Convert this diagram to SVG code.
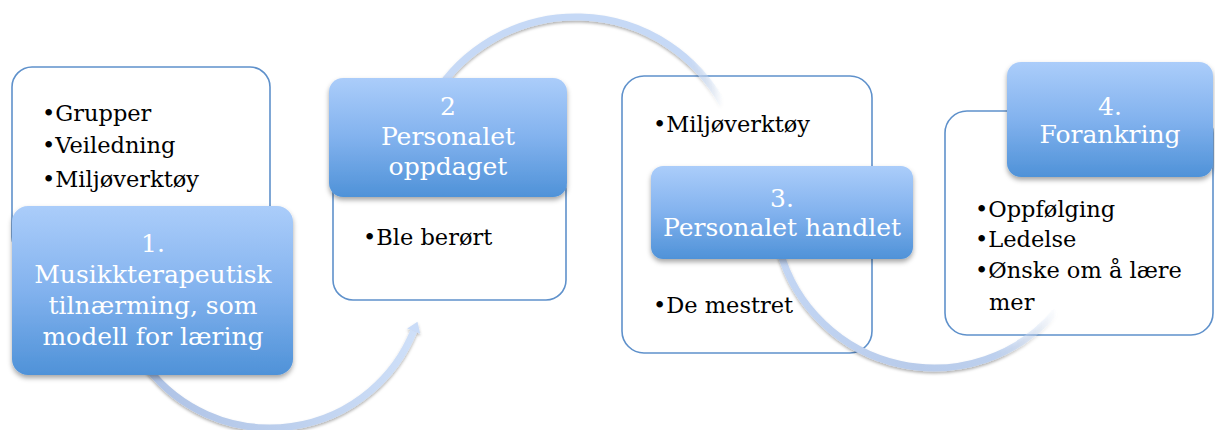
<svg xmlns="http://www.w3.org/2000/svg" width="1215" height="430" viewBox="0 0 1215 430">
<defs>
<style>
.wbox{fill:#ffffff;stroke:#5f91cb;stroke-width:1.6}
.bbox{fill:url(#blueGrad);filter:url(#boxShadow)}
.title{font-family:"DejaVu Serif","Liberation Serif",serif;font-size:25px;fill:#ffffff;text-anchor:middle}
.bullet{font-family:"DejaVu Serif","Liberation Serif",serif;font-size:22.5px;fill:#000000}
.arc{fill:none;stroke-width:7;filter:url(#arcShadow)}
</style>
<linearGradient id="blueGrad" x1="0" y1="0" x2="0" y2="1">
<stop offset="0" stop-color="#abcdfa"/>
<stop offset="0.5" stop-color="#82b2ee"/>
<stop offset="1" stop-color="#4f92d8"/>
</linearGradient>
<linearGradient id="arc1Grad" gradientUnits="userSpaceOnUse" x1="148" y1="0" x2="418" y2="0">
<stop offset="0" stop-color="#afc3e6"/>
<stop offset="0.5" stop-color="#bccfed"/>
<stop offset="1" stop-color="#cfe0f9"/>
</linearGradient>
<linearGradient id="arc2Grad" gradientUnits="userSpaceOnUse" x1="434" y1="0" x2="723" y2="0">
<stop offset="0" stop-color="#c6d9f6" stop-opacity="1"/>
<stop offset="0.88" stop-color="#c6d9f6" stop-opacity="1"/>
<stop offset="1" stop-color="#c6d9f6" stop-opacity="0"/>
</linearGradient>
<linearGradient id="arc3Grad" gradientUnits="userSpaceOnUse" x1="779" y1="0" x2="1057" y2="0">
<stop offset="0" stop-color="#c3d6f4" stop-opacity="1"/>
<stop offset="0.5" stop-color="#b8cbea" stop-opacity="1"/>
<stop offset="0.78" stop-color="#bdd0ee" stop-opacity="1"/>
<stop offset="1" stop-color="#c6d9f6" stop-opacity="0"/>
</linearGradient>
<filter id="boxShadow" x="-10%" y="-10%" width="120%" height="130%">
<feDropShadow dx="0" dy="3" stdDeviation="2.5" flood-color="#000000" flood-opacity="0.35"/>
</filter>
<filter id="arcShadow" x="-10%" y="-10%" width="120%" height="130%">
<feDropShadow dx="0" dy="2" stdDeviation="1.5" flood-color="#000000" flood-opacity="0.3"/>
</filter>
<marker id="arrow" markerUnits="userSpaceOnUse" markerWidth="20" markerHeight="20" viewBox="-2 -10 14 20" refX="0" refY="0" orient="auto">
<path d="M0,-7 L10,0 L0,7 z" fill="#cadcf8"/>
</marker>
</defs>

<g id="node1-list">
<rect class="wbox" x="12" y="67" width="258" height="190" rx="20"/>
<text class="bullet" x="42" y="121">•Grupper</text>
<text class="bullet" x="42" y="153">•Veiledning</text>
<text class="bullet" x="42" y="187">•Miljøverktøy</text>
</g>
<g id="node2-list">
<rect class="wbox" x="333" y="170" width="233" height="130" rx="20"/>
<text class="bullet" x="363" y="245">•Ble berørt</text>
</g>
<g id="node3-list">
<rect class="wbox" x="622" y="76" width="250" height="277" rx="22"/>
<text class="bullet" x="653" y="132">•Miljøverktøy</text>
<text class="bullet" x="653" y="313">•De mestret</text>
</g>
<g id="node4-list">
<rect class="wbox" x="945" y="111" width="268" height="224" rx="22"/>
<text class="bullet" x="975" y="217">•Oppfølging</text>
<text class="bullet" x="975" y="247">•Ledelse</text>
<text class="bullet" x="975" y="278">•Ønske om å lære</text>
<text class="bullet" x="989" y="310">mer</text>
</g>

<g id="connectors">
<path class="arc" stroke="url(#arc1Grad)" d="M147.9,368.4 A155,155 0 0 0 413.7,331.1" marker-end="url(#arrow)"/>
<path class="arc" stroke="url(#arc2Grad)" d="M434.4,95.5 A167,167 0 0 1 722.5,103.8"/>
<path class="arc" stroke="url(#arc3Grad)" d="M779.5,249.4 A160,160 0 0 0 1056.6,310.8"/>
</g>

<g id="node1">
<rect class="bbox" x="12" y="206" width="281" height="169" rx="16"/>
<text class="title" x="153" y="252">1.</text>
<text class="title" x="153" y="283">Musikkterapeutisk</text>
<text class="title" x="153" y="314">tilnærming, som</text>
<text class="title" x="153" y="345">modell for læring</text>
</g>
<g id="node2">
<rect class="bbox" x="329" y="78" width="238" height="119" rx="14"/>
<text class="title" x="448" y="115">2</text>
<text class="title" x="448" y="145">Personalet</text>
<text class="title" x="448" y="175">oppdaget</text>
</g>
<g id="node3">
<rect class="bbox" x="651" y="166" width="262" height="93" rx="12"/>
<text class="title" x="782" y="207">3.</text>
<text class="title" x="782" y="236">Personalet handlet</text>
</g>
<g id="node4">
<rect class="bbox" x="1007" y="62" width="206" height="115" rx="14"/>
<text class="title" x="1110" y="115">4.</text>
<text class="title" x="1110" y="143">Forankring</text>
</g>
</svg>
